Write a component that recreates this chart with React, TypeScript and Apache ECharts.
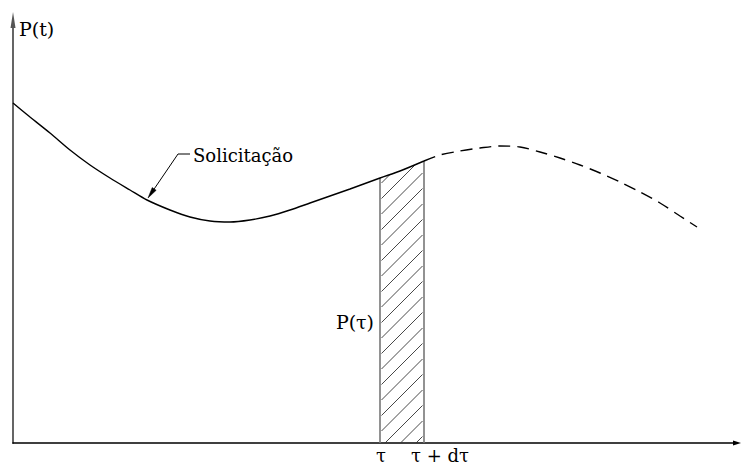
import React, { useEffect, useRef } from "react";
import * as echarts from "echarts";

// Solid part of the load curve ("Solicitação"), up to τ + dτ
const solidX = [0, 17, 37, 57, 77, 97, 117, 134, 157, 177, 197, 217, 237, 257, 277, 297, 317, 337, 367, 387, 411];
const solidY = [340, 326, 310, 293, 278, 265, 253, 243, 233, 226, 222, 221, 223, 227, 233, 240, 247, 254, 265, 272, 282];
// Dashed continuation after τ + dτ
const dashedX = [411, 427, 447, 467, 487, 507, 527, 547, 567, 587, 607, 627, 647, 667, 684];
const dashedY = [282, 288, 292, 295, 297, 296, 291, 285, 278, 270, 261, 251, 240, 227, 216];

const TAU_INDEX = 18; // τ in solid arrays
const TAUD_INDEX = 20; // τ + dτ in solid arrays
const LEADER_TIP_INDEX = 7; // where the "Solicitação" arrow touches the curve

const X_MAX = 724;
const Y_MAX = 423;

const FONT_FAMILY = "'DejaVu Serif', serif";

export default function App() {
  const ref = useRef<HTMLDivElement>(null);

  useEffect(() => {
    document.body.style.margin = "0";
    if (!ref.current) return;
    const chart = echarts.init(ref.current, undefined, { renderer: "svg" });

    const tau = solidX[TAU_INDEX];
    const tauD = solidX[TAUD_INDEX];
    const yTau = solidY[TAU_INDEX];
    const yTauD = solidY[TAUD_INDEX];

    const hatchRender = (params: any, api: any) => {
      const pl = api.coord([tau, 0]);
      const pr = api.coord([tauD, 0]);
      const tl = api.coord([tau, yTau]);
      const tr = api.coord([tauD, yTauD]);
      const xl = pl[0];
      const xr = pr[0];
      const yb = pl[1];
      const a = tl[1];
      const m = (tr[1] - tl[1]) / (xr - xl);
      const spacing = 15.5;
      const offset = 5;
      const c0 = xl + yb + offset;
      const cmin = Math.min(xl + a, xr + tr[1]);
      const cmax = xr + yb;
      const children: any[] = [];
      const kMin = Math.floor((cmin - c0) / spacing) - 1;
      const kMax = Math.ceil((cmax - c0) / spacing) + 1;
      for (let k = kMin; k <= kMax; k++) {
        const c = c0 + k * spacing;
        const xs = Math.max(xl + 1.5, c - yb);
        const xe = Math.min(xr - 1.5, (c - a + m * xl) / (1 + m));
        if (xe > xs + 0.5) {
          children.push({
            type: "line",
            shape: { x1: xs, y1: c - xs, x2: xe, y2: c - xe },
            style: { stroke: "#333", lineWidth: 0.9 },
          });
        }
      }
      children.push({
        type: "line",
        shape: { x1: xl, y1: yb, x2: xl, y2: a },
        style: { stroke: "#777", lineWidth: 1.6 },
      });
      children.push({
        type: "line",
        shape: { x1: xr, y1: yb, x2: xr, y2: tr[1] },
        style: { stroke: "#777", lineWidth: 1.6 },
      });
      return { type: "group", children };
    };

    const annotRender = (params: any, api: any) => {
      const txt = (text: string, p: number[], align: string, vAlign: string, size = 19) => ({
        type: "text",
        x: p[0],
        y: p[1],
        style: {
          text,
          fill: "#000",
          font: `${size}px ${FONT_FAMILY}`,
          align,
          verticalAlign: vAlign,
        },
      });
      const tip = api.coord([solidX[LEADER_TIP_INDEX] + 1, solidY[LEADER_TIP_INDEX] + 2]);
      const knee = api.coord([165, 289]);
      const lend = api.coord([177, 289]);
      const dx = tip[0] - knee[0];
      const dy = tip[1] - knee[1];
      const len = Math.sqrt(dx * dx + dy * dy);
      const ux = dx / len;
      const uy = dy / len;
      const ah = 11;
      const aw = 2.4;
      const base = [tip[0] - ux * ah, tip[1] - uy * ah];
      return {
        type: "group",
        children: [
          txt("P(t)", api.coord([6, 414]), "left", "middle"),
          txt("P(τ)", api.coord([tau - 6, 121]), "right", "middle"),
          txt("τ", api.coord([tau + 1, -12]), "center", "middle", 18),
          txt("τ + dτ", api.coord([tauD + 16, -12]), "center", "middle", 18),
          txt("Solicitação", api.coord([180, 288]), "left", "middle", 18),
          {
            type: "polyline",
            shape: { points: [lend, knee, base] },
            style: { stroke: "#000", lineWidth: 1, fill: null },
          },
          {
            type: "polygon",
            shape: {
              points: [
                tip,
                [base[0] - uy * aw, base[1] + ux * aw],
                [base[0] + uy * aw, base[1] - ux * aw],
              ],
            },
            style: { fill: "#000", stroke: "#000", lineWidth: 0.5 },
          },
        ],
      };
    };

    chart.setOption({
      animation: false,
      backgroundColor: "#fff",
      textStyle: { fontFamily: FONT_FAMILY },
      grid: { left: 13, right: 6, top: 20, bottom: 22, containLabel: false },
      xAxis: {
        type: "value",
        min: 0,
        max: X_MAX,
        axisLine: {
          show: true,
          onZero: false,
          symbol: ["none", "triangle"],
          symbolSize: [5, 8],
          lineStyle: { color: "#000", width: 1.6 },
        },
        axisTick: { show: false },
        axisLabel: { show: false },
        splitLine: { show: false },
      },
      yAxis: {
        type: "value",
        min: 0,
        max: Y_MAX,
        axisLine: {
          show: true,
          onZero: false,
          symbol: ["none", "triangle"],
          symbolSize: [5, 16],
          lineStyle: { color: "#555", width: 1.8 },
        },
        axisTick: { show: false },
        axisLabel: { show: false },
        splitLine: { show: false },
      },
      series: [
        {
          type: "custom",
          renderItem: hatchRender,
          data: [[tau, yTau]],
          silent: true,
          z: 1,
        },
        {
          type: "line",
          data: solidX.map((x, i) => [x, solidY[i]]),
          showSymbol: false,
          smooth: 0.3,
          lineStyle: { color: "#000", width: 1.4 },
          silent: true,
          z: 3,
        },
        {
          type: "line",
          data: dashedX.map((x, i) => [x, dashedY[i]]),
          showSymbol: false,
          smooth: 0.3,
          lineStyle: { color: "#000", width: 1.4, type: [12, 7] },
          silent: true,
          z: 3,
        },
        {
          type: "custom",
          renderItem: annotRender,
          data: [[0, 0]],
          silent: true,
          clip: false,
          z: 4,
        },
      ],
    });

    return () => chart.dispose();
  }, []);

  return <div ref={ref} style={{ width: 743, height: 465 }} />;
}
